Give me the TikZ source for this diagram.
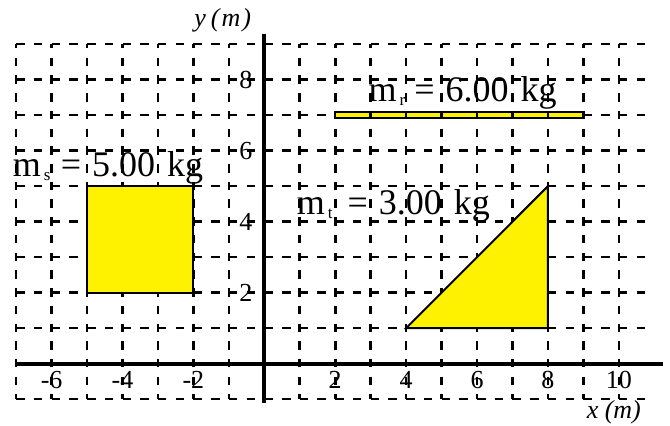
\documentclass[tikz,border=0pt]{standalone}
\usepackage{fontspec}
\setmainfont{Liberation Serif}
\begin{document}
\begin{tikzpicture}[x=35.45pt,y=35.5pt,
  gridline/.style={line width=2.6pt,dash pattern=on 8.5pt off 9.225pt},
  vgridline/.style={gridline,dash phase=4.25pt},
  axisline/.style={line width=4pt},
  massbody/.style={fill=yellow,draw=black,line width=2pt,line join=miter},
  ticklbl/.style={inner sep=0pt,font=\fontsize{26}{30}\selectfont},
  masslbl/.style={inner sep=0pt,anchor=base west,font=\fontsize{36}{40}\selectfont},
  axislbl/.style={inner sep=0pt,anchor=base west,font=\fontsize{26}{30}\selectfont\itshape}]
\newcommand{\masstext}[3]{m\makebox[#3][l]{\hspace{3pt}\raisebox{-4pt}{\fontsize{17}{17}\selectfont #1}}=\hspace{11pt}#2\hspace{12pt}kg}
\useasboundingbox (-7.456,-1.727) rectangle (11.444,10.245);
% grid
\foreach \yy in {-1,...,9} \draw[gridline] (-7,\yy) -- (11,\yy);
\foreach \xx in {-7,...,10} \draw[vgridline] (\xx,9) -- (\xx,-1);
% rod
\draw[massbody] (2,6.92) rectangle (9,7.09);
\begin{scope}
  \clip (2,6.92) rectangle (9,7.09);
  \foreach \xx in {3,...,8} \draw[line width=2.6pt] (\xx,6.8) -- (\xx,7.2);
\end{scope}
% square
\node[coordinate] (sqA) at (-5,2) {};
\node[coordinate] (sqB) at (-2,5) {};
\draw[massbody] (sqA) rectangle (sqB);
% triangle
\node[coordinate] (tA) at (4,1) {};
\node[coordinate] (tB) at (8,1) {};
\node[coordinate] (tC) at (8,5) {};
\draw[massbody] (tA) -- (tB) -- (tC) -- cycle;
% axes
\node[coordinate] (xl) at (-7,0) {};
\node[coordinate] (xr) at (11.25,0) {};
\node[coordinate] (yb) at (0,-1.1) {};
\node[coordinate] (yt) at (0,9.3) {};
\draw[axisline] (xl) -- (xr);
\draw[axisline] (yb) -- (yt);
% tick labels
\foreach \xx in {-6,-4,-2,2,4,6,8,10}
  \node[ticklbl,anchor=base] (tx\xx) at (\xx,-0.69) {\xx};
\foreach \yy in {2,4,6,8}
  \node[ticklbl,anchor=east] (ty\yy) at (-0.33,\yy) {\yy};
% axis titles
\node[axislbl] (ytitle) at (-1.98,9.51) {y\hspace{5pt}(\hspace{2pt}m\hspace{2pt})};
\node[axislbl] (xtitle) at (9.09,-1.53) {x (m)};
% mass labels
\node[masslbl] (ms) at (-7.10,5.27) {\masstext{s}{5.00}{20pt}};
\node[masslbl] (mr) at (2.94,7.38) {\masstext{r}{6.00}{17.7pt}};
\node[masslbl] (mt) at (0.914,4.19) {\masstext{t}{3.00}{22.7pt}};
\end{tikzpicture}
\end{document}
